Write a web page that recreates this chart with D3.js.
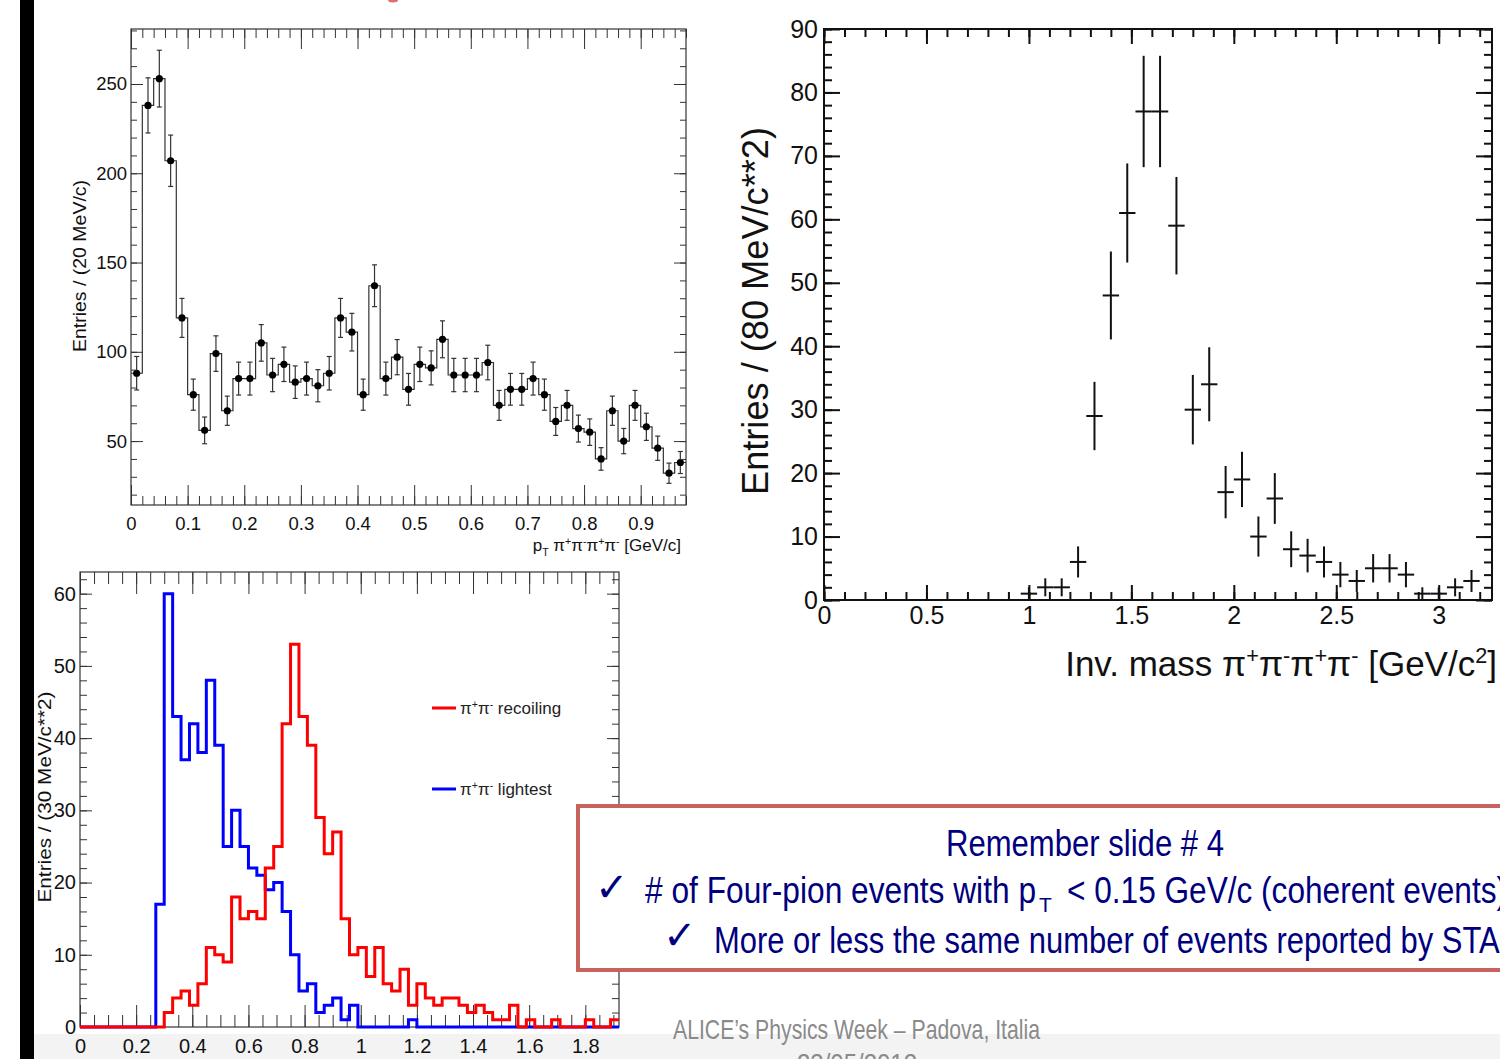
<!DOCTYPE html>
<html><head><meta charset="utf-8">
<script src="https://cdn.jsdelivr.net/npm/d3@7"></script>
<style>html,body{margin:0;padding:0;background:#fff;overflow:hidden}svg{display:block}</style>
</head><body>
<svg id="c" width="1500" height="1059"></svg>
<script>
// ---------------- DATA ----------------
// Top-left: pT of four-pion system, 20 MeV/c bins starting at 0
const ptBinWidth = 0.02;
const ptCounts = [88,238,253,207,119,76,56,99,67,85,85,105,87,93,83,85,81,88,119,111,
                  76,137,85,97,79,93,91,107,87,87,87,94,70,79,79,85,76,61,70,57,
                  55,40,67,50,70,58,46,32,38];
const ptXTicks = [0,0.1,0.2,0.3,0.4,0.5,0.6,0.7,0.8,0.9];
const ptXLabels = ["0","0.1","0.2","0.3","0.4","0.5","0.6","0.7","0.8","0.9"];
const ptYTicks = [50,100,150,200,250];
const ptYLabels = ["50","100","150","200","250"];

// Right: invariant mass, 80 MeV/c^2 bins (bin centres)
const massCenters = [1.00,1.08,1.16,1.24,1.32,1.40,1.48,1.56,1.64,1.72,1.80,1.88,1.96,2.04,
                     2.12,2.20,2.28,2.36,2.44,2.52,2.60,2.68,2.76,2.84,2.92,3.00,3.08,3.16];
const massCounts  = [1,2,2,6,29,48,61,77,77,59,30,34,17,19,10,16,8,7,6,4,3,5,5,4,1,1,2,3];
const massBinWidth = 0.08;
const massXTicks = [0,0.5,1,1.5,2,2.5,3];
const massXLabels = ["0","0.5","1","1.5","2","2.5","3"];
const massYTicks = [0,10,20,30,40,50,60,70,80,90];
const massYLabels = ["0","10","20","30","40","50","60","70","80","90"];

// Bottom-left: pi+pi- pair masses, 30 MeV/c^2 bins starting at 0
const pairBinWidth = 0.03;
const recoilingCounts = [0,0,0,0,0,0,0,0,0,0, 2,4,5,3,6,11,10,9,18,15,
                         16,15,22,25,42,53,43,39,29,24, 27,15,10,11,7,11,6,5,8,3,
                         6,4,3,4,4,3,2,3,2,1, 1,3,0,1,0,0,1,0,0,0, 1,0,0,1];
const lightestCounts  = [0,0,0,0,0,0,0,0,0,17, 60,43,37,42,38,48,39,25,30,25,
                         22,21,19,20,16,10,5,6,2,3, 4,1,3,0,0,0,0,0,0,1,
                         0,0,0,0,0,0,0,0,0,0, 0,0,0,0,0,0,0,0,0,0, 0,0,0,0];
const pairXTicks = [0,0.2,0.4,0.6,0.8,1,1.2,1.4,1.6,1.8];
const pairXLabels = ["0","0.2","0.4","0.6","0.8","1","1.2","1.4","1.6","1.8"];
const pairYTicks = [0,10,20,30,40,50,60];
const pairYLabels = ["0","10","20","30","40","50","60"];
const seriesNames = ["recoiling","lightest"];
const seriesColors = ["#ff0000","#0000ff"];

// ---------------- DRAWING ----------------
const FONT = "'Liberation Sans', Arial, Helvetica, sans-serif";
const NARROW = "'Liberation Sans Narrow', 'Liberation Sans', Arial, sans-serif";
const svg = d3.select('#c');

svg.append('rect').attr('width',1500).attr('height',1059).attr('fill','#fff');
svg.append('rect').attr('x',34).attr('y',1034).attr('width',1466).attr('height',25).attr('fill','#f3f3f3');
svg.append('rect').attr('x',20).attr('y',0).attr('width',14).attr('height',1059).attr('fill','#000');
svg.append('ellipse').attr('cx',393).attr('cy',0).attr('rx',5).attr('ry',2.5).attr('fill','#e07070');

function rich(sel, segs, fs) {
  let cur = 0;
  segs.forEach(s => {
    const target = s.sub ? fs*0.3 : (s.sup ? -fs*0.38 : 0);
    const t = sel.append('tspan').text(s.t).attr('dy', target - cur);
    if (s.sub || s.sup) t.attr('font-size', fs*0.62);
    cur = target;
  });
}

function rootAxes(g, x, y, o) {
  const [xl, xr] = x.range(); const [yb, yt] = y.range();
  const style = sel => {
    sel.select('.domain').remove();
    sel.attr('font-family', null).attr('font-size', null);
    sel.selectAll('.tick line').attr('stroke', o.color).attr('stroke-width', o.tw);
    sel.selectAll('.tick text').attr('font-family', FONT).attr('font-size', o.fs).attr('fill', '#111');
  };
  g.append('g').attr('transform',`translate(0,${yb})`)
    .call(d3.axisBottom(x).tickValues(o.xMinor).tickSize(-o.xMin).tickFormat('')).call(style);
  g.append('g').attr('transform',`translate(0,${yt})`)
    .call(d3.axisTop(x).tickValues(o.xMinor).tickSize(-o.xMin).tickFormat('')).call(style);
  g.append('g').attr('transform',`translate(0,${yb})`)
    .call(d3.axisBottom(x).tickValues(o.xMajor).tickSize(-o.xMaj).tickPadding(o.xPad)
      .tickFormat((d,i)=>o.xLabels[i])).call(style);
  g.append('g').attr('transform',`translate(0,${yt})`)
    .call(d3.axisTop(x).tickValues(o.xMajor).tickSize(-o.xMaj).tickFormat('')).call(style);
  g.append('g').attr('transform',`translate(${xl},0)`)
    .call(d3.axisLeft(y).tickValues(o.yMinor).tickSize(-o.yMin).tickFormat('')).call(style);
  g.append('g').attr('transform',`translate(${xr},0)`)
    .call(d3.axisRight(y).tickValues(o.yMinor).tickSize(-o.yMin).tickFormat('')).call(style);
  g.append('g').attr('transform',`translate(${xl},0)`)
    .call(d3.axisLeft(y).tickValues(o.yMajor).tickSize(-o.yMaj).tickPadding(o.yPad)
      .tickFormat((d,i)=>o.yLabels[i])).call(style);
  g.append('g').attr('transform',`translate(${xr},0)`)
    .call(d3.axisRight(y).tickValues(o.yMajor).tickSize(-o.yMaj).tickFormat('')).call(style);
  g.append('rect').attr('x',xl).attr('y',yt).attr('width',xr-xl).attr('height',yb-yt)
    .attr('fill','none').attr('stroke',o.color).attr('stroke-width',o.fw);
}

// ===== Top-left chart =====
{
  const x = d3.scaleLinear([0, 0.98],[131, 686]);
  const y = d3.scaleLinear([14.2, 280.8],[505, 29]);
  const g = svg.append('g');
  const steps = ptCounts.map((v,i)=>({e:i*ptBinWidth, v}));
  steps.push({e:ptCounts.length*ptBinWidth, v:ptCounts[ptCounts.length-1]});
  g.append('path').attr('d', d3.line().x(d=>x(d.e)).y(d=>y(d.v)).curve(d3.curveStepAfter)(steps))
    .attr('fill','none').attr('stroke','#333').attr('stroke-width',1.2);
  const pts = ptCounts.map((v,i)=>({c:(i+0.5)*ptBinWidth, v, e:Math.sqrt(v)}));
  const eb = g.append('g').attr('stroke','#333').attr('stroke-width',1.2);
  pts.forEach(p=>{
    eb.append('line').attr('x1',x(p.c)).attr('x2',x(p.c)).attr('y1',y(p.v-p.e)).attr('y2',y(p.v+p.e));
    [p.v-p.e, p.v+p.e].forEach(yy=>eb.append('line').attr('x1',x(p.c)-2.5).attr('x2',x(p.c)+2.5).attr('y1',y(yy)).attr('y2',y(yy)));
  });
  g.selectAll('circle.m').data(pts).join('circle').attr('class','m')
    .attr('cx',d=>x(d.c)).attr('cy',d=>y(d.v)).attr('r',3.6).attr('fill','#000');
  rootAxes(g, x, y, {
    xMajor: ptXTicks, xLabels: ptXLabels, xMinor: d3.range(0, 0.981, 0.02),
    yMajor: ptYTicks, yLabels: ptYLabels, yMinor: d3.range(20, 281, 10),
    xMaj: 20, xMin: 9, yMaj: 12, yMin: 6, xPad: 12, yPad: 4, fs: 18.5, tw: 1, fw: 1.2, color: '#333'
  });
  const xt = svg.append('text').attr('x',681).attr('y',551).attr('text-anchor','end')
    .attr('font-family',FONT).attr('font-size',17).attr('fill','#111');
  rich(xt, [{t:'p'},{t:'T',sub:true},{t:' π'},{t:'+',sup:true},{t:'π'},{t:'-',sup:true},{t:'π'},{t:'+',sup:true},{t:'π'},{t:'-',sup:true},{t:' [GeV/c]'}], 17);
  svg.append('text').attr('transform','translate(86,266) rotate(-90)').attr('text-anchor','middle')
    .attr('font-family',FONT).attr('font-size',18).attr('fill','#111')
    .attr('textLength',172).attr('lengthAdjust','spacingAndGlyphs').text('Entries / (20 MeV/c)');
}

// ===== Right chart =====
{
  const x = d3.scaleLinear([0, 3.26],[824, 1492]);
  const y = d3.scaleLinear([0, 90],[600, 29]);
  const g = svg.append('g');
  rootAxes(g, x, y, {
    xMajor: massXTicks, xLabels: massXLabels, xMinor: d3.range(0, 3.26, 0.1),
    yMajor: massYTicks, yLabels: massYLabels, yMinor: d3.range(0, 90.1, 2),
    xMaj: 15, xMin: 8, yMaj: 16, yMin: 8, xPad: 6, yPad: 6, fs: 25, tw: 2, fw: 2, color: '#111'
  });
  const cg = g.append('g').attr('stroke','#111').attr('stroke-width',2);
  massCenters.forEach((c,i)=>{
    const v = massCounts[i], e = Math.sqrt(v);
    cg.append('line').attr('x1',x(c-massBinWidth/2)).attr('x2',x(c+massBinWidth/2)).attr('y1',y(v)).attr('y2',y(v));
    cg.append('line').attr('x1',x(c)).attr('x2',x(c)).attr('y1',y(Math.max(0,v-e))).attr('y2',y(v+e));
  });
  const xt = svg.append('text').attr('x',1497).attr('y',676).attr('text-anchor','end')
    .attr('font-family',FONT).attr('font-size',35).attr('fill','#111');
  rich(xt, [{t:'Inv. mass π'},{t:'+',sup:true},{t:'π'},{t:'-',sup:true},{t:'π'},{t:'+',sup:true},{t:'π'},{t:'-',sup:true},{t:' [GeV/c'},{t:'2',sup:true},{t:']'}], 35);
  svg.append('text').attr('transform','translate(768,311) rotate(-90)').attr('text-anchor','middle')
    .attr('font-family',FONT).attr('font-size',36).attr('fill','#111')
    .attr('textLength',368).attr('lengthAdjust','spacingAndGlyphs').text('Entries / (80 MeV/c**2)');
}

// ===== Bottom-left chart =====
{
  const x = d3.scaleLinear([0, 1.92],[80, 619]);
  const y = d3.scaleLinear([0, 63],[1027, 572]);
  const g = svg.append('g');
  rootAxes(g, x, y, {
    xMajor: pairXTicks, xLabels: pairXLabels, xMinor: d3.range(0, 1.921, 0.05),
    yMajor: pairYTicks, yLabels: pairYLabels, yMinor: d3.range(0, 63, 2),
    xMaj: 22, xMin: 12, yMaj: 12, yMin: 7, xPad: 12, yPad: 4, fs: 20, tw: 1, fw: 1.2, color: '#333'
  });
  const line = d3.line().x(d=>x(d.e)).y(d=>y(d.v)).curve(d3.curveStepAfter);
  [lightestCounts, recoilingCounts].forEach((arr, k)=>{
    const steps = arr.map((v,i)=>({e:i*pairBinWidth, v}));
    steps.push({e:arr.length*pairBinWidth, v:arr[arr.length-1]});
    g.append('path').attr('d', line(steps)).attr('fill','none')
      .attr('stroke', k===0 ? seriesColors[1] : seriesColors[0]).attr('stroke-width',3);
  });
  const leg = [{name:seriesNames[0], color:seriesColors[0], y:708},{name:seriesNames[1], color:seriesColors[1], y:789}];
  leg.forEach(l=>{
    svg.append('line').attr('x1',432).attr('x2',456).attr('y1',l.y).attr('y2',l.y).attr('stroke',l.color).attr('stroke-width',3);
    const t = svg.append('text').attr('x',460).attr('y',l.y+6).attr('font-family',FONT).attr('font-size',17).attr('fill','#222');
    rich(t, [{t:'π'},{t:'+',sup:true},{t:'π'},{t:'-',sup:true},{t:' '+l.name}], 17);
  });
  svg.append('text').attr('transform','translate(51,797) rotate(-90)').attr('text-anchor','middle')
    .attr('font-family',FONT).attr('font-size',19).attr('fill','#111')
    .attr('textLength',211).attr('lengthAdjust','spacingAndGlyphs').text('Entries / (30 MeV/c**2)');
}

// ===== Text box =====
{
  svg.append('rect').attr('x',578).attr('y',806).attr('width',1000).attr('height',164)
    .attr('fill','#fff').attr('stroke','#c8625c').attr('stroke-width',4);
  const navy = '#00007f';
  const T = (x,y,s,fs,len,anchor,fam) => {
    const t = svg.append('text').attr('x',x).attr('y',y).attr('font-family',fam||NARROW)
      .attr('font-size',fs).attr('fill',navy).text(s);
    if (len) t.attr('textLength',len).attr('lengthAdjust','spacingAndGlyphs');
    if (anchor) t.attr('text-anchor',anchor);
    return t;
  };
  T(946, 856, 'Remember slide # 4', 36, 278);
  T(595, 901, '✓', 40, null, null, "'DejaVu Sans', sans-serif").attr('font-weight','bold');
  T(645, 903, '# of Four-pion events with p', 36, 391);
  T(1039, 912, 'T', 21);
  T(1067, 903, '< 0.15 GeV/c (coherent events)', 36, 440);
  T(663, 949, '✓', 40, null, null, "'DejaVu Sans', sans-serif").attr('font-weight','bold');
  T(714, 953, 'More or less the same number of events reported by STAR', 36, 808);
}

// ===== Footer =====
svg.append('text').attr('x',673).attr('y',1039).attr('font-family',NARROW).attr('font-size',28)
  .attr('fill','#8a8a8a').attr('textLength',367).attr('lengthAdjust','spacingAndGlyphs')
  .text('ALICE’s Physics Week – Padova, Italia');
svg.append('text').attr('x',797).attr('y',1073).attr('font-family',NARROW).attr('font-size',28)
  .attr('fill','#8a8a8a').attr('textLength',120).attr('lengthAdjust','spacingAndGlyphs')
  .text('23/05/2012');
</script>
</body></html>
